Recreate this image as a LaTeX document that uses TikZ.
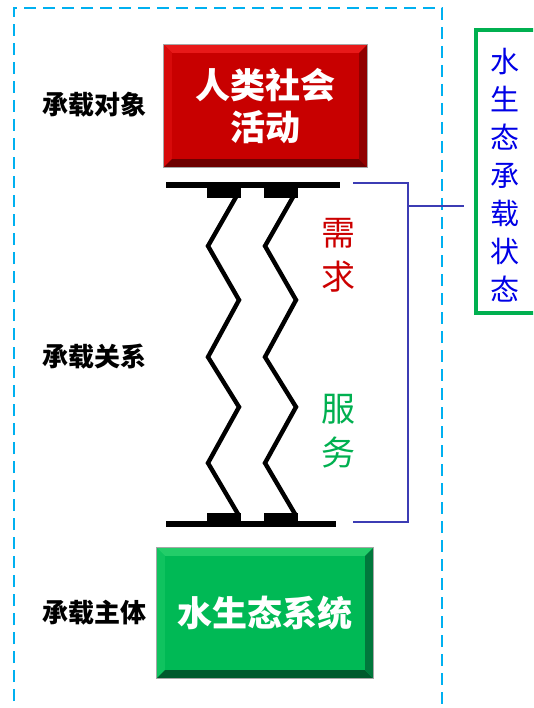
\documentclass[tikz,border=0pt]{standalone}
\usepackage{fontspec}
\newfontfamily\cjk{Noto Sans CJK SC}
\definecolor{dashblue}{RGB}{0,176,240}
\definecolor{boxred}{RGB}{200,0,0}
\definecolor{redlight}{RGB}{232,25,25}
\definecolor{redleft}{RGB}{215,10,10}
\definecolor{reddark}{RGB}{110,0,0}
\definecolor{redright}{RGB}{145,0,0}
\definecolor{boxgreen}{RGB}{0,185,85}
\definecolor{greenlight}{RGB}{35,205,105}
\definecolor{greenleft}{RGB}{15,195,95}
\definecolor{greendark}{RGB}{0,90,45}
\definecolor{greenright}{RGB}{0,120,60}
\definecolor{txtred}{RGB}{204,0,0}
\definecolor{txtgreen}{RGB}{0,176,80}
\definecolor{framegreen}{RGB}{0,176,80}
\definecolor{brk}{RGB}{60,60,180}
\definecolor{txtblue}{RGB}{0,0,230}
\newcommand{\bevelbox}[6]{%
  \fill[#2] (#1.north west) -- (#1.north east) -- ([xshift=-#6,yshift=-#6]#1.north east) -- ([xshift=#6,yshift=-#6]#1.north west) -- cycle;
  \fill[#3] (#1.north west) -- ([xshift=#6,yshift=-#6]#1.north west) -- ([xshift=#6,yshift=#6]#1.south west) -- (#1.south west) -- cycle;
  \fill[#4] (#1.south west) -- (#1.south east) -- ([xshift=-#6,yshift=#6]#1.south east) -- ([xshift=#6,yshift=#6]#1.south west) -- cycle;
  \fill[#5] (#1.north east) -- ([xshift=-#6,yshift=-#6]#1.north east) -- ([xshift=-#6,yshift=#6]#1.south east) -- (#1.south east) -- cycle;
  \draw[gray!70, line width=1.2pt] (#1.north west) rectangle (#1.south east);
}
\tikzset{
  sidelabel/.style={font=\cjk\bfseries\fontsize{26}{30}\selectfont, text=black, inner sep=0pt},
  bigbox/.style={inner sep=0pt, align=center, text=white, font=\cjk\bfseries\fontsize{35}{42}\selectfont},
  bar/.style={fill=black},
  zig/.style={line width=4.4pt, line join=miter, black},
  bracket/.style={draw=brk, line width=1.3pt},
}
\begin{document}
\begin{tikzpicture}[x=1pt,y=-1pt]
\useasboundingbox (0,0) rectangle (533,708);
\clip (0,0) rectangle (533,708);
\fill[white] (0,0) rectangle (533,708);
% dashed frame
\draw[dashblue, line width=1.5pt, dash pattern=on 12pt off 7pt] (14,720) -- (14,8) -- (442,8) -- (442,720);
% red box
\node[bigbox, fill=boxred, minimum width=203pt, minimum height=122pt] (obj) at (265.5,106) {};
\bevelbox{obj}{redlight}{redleft}{reddark}{redright}{8pt}
\node[bigbox] (objtxt) at (265.5,106) {人类社会\\活动};
% green box
\node[bigbox, fill=boxgreen, minimum width=216pt, minimum height=130pt] (sub) at (265,613) {};
\bevelbox{sub}{greenlight}{greenleft}{greendark}{greenright}{8pt}
\node[bigbox] (subtxt) at (265,613) {水生态系统};
% side labels
\node[sidelabel] (l1) at (94,105) {承载对象};
\node[sidelabel] (l2) at (94,357) {承载关系};
\node[sidelabel] (l3) at (94,613) {承载主体};
% bars
\fill[bar] (166,182) rectangle (340,188);
\fill[bar] (207,187) rectangle (241,198);
\fill[bar] (264,187) rectangle (298,198);
\fill[bar] (166,521) rectangle (336,527);
\fill[bar] (207,513) rectangle (241,522);
\fill[bar] (264,513) rectangle (298,522);
% zigzags
\coordinate (za) at (236,197);
\coordinate (zb) at (238,514);
\draw[zig] (za) -- (208,246) -- (239,300) -- (208,357) -- (239,407) -- (208,463) -- (zb);
\coordinate (zc) at (293,197);
\coordinate (zd) at (295,514);
\draw[zig] (zc) -- (265,246) -- (296,300) -- (265,357) -- (296,407) -- (265,463) -- (zd);
% demand / service
\node[font=\cjk\fontsize{34}{44}\selectfont, text=txtred, align=center, inner sep=0pt] (need) at (338,255) {需\\求};
\node[font=\cjk\fontsize{34}{44}\selectfont, text=txtgreen, align=center, inner sep=0pt] (serv) at (338,431.5) {服\\务};
% bracket
\coordinate (bt) at (353,183);
\coordinate (bb) at (353,522);
\coordinate (bm) at (408,206);
\draw[bracket] (bt) -- (408,183) -- (408,522) -- (bb);
% state frame
\node[draw=framegreen, line width=4pt, minimum width=70pt, minimum height=283pt, inner sep=0pt] (frame) at (511,171.5) {};
\node[font=\cjk\fontsize{29}{38}\selectfont, text=txtblue, align=center, inner sep=0pt] (state) at (505,175.5) {水\\生\\态\\承\\载\\状\\态};
\draw[bracket] (bm) -- ([xshift=-10pt]frame.west |- bm);
\end{tikzpicture}
\end{document}
